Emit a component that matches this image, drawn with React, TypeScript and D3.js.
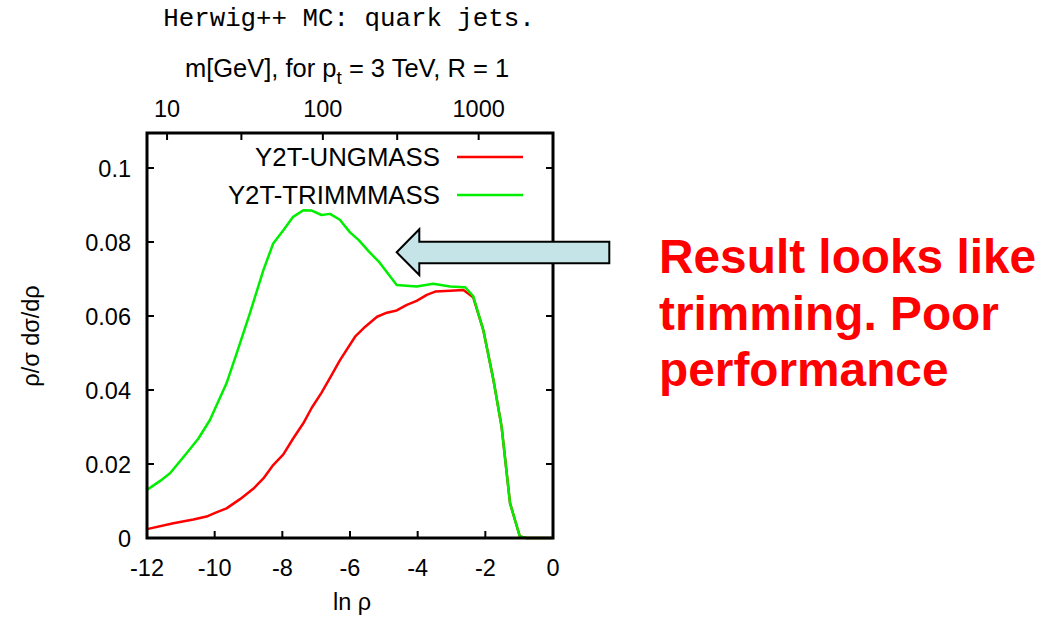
import React from "react";
import * as d3 from "d3";

const greenX = [-12.0, -11.6, -11.32, -10.83, -10.48, -10.14, -9.65, -9.35, -8.96, -8.56, -8.27, -7.97, -7.68, -7.38, -7.13, -6.84, -6.59, -6.3, -6.0, -5.74, -5.44, -5.15, -4.62, -4.03, -3.54, -3.04, -2.6, -2.36, -2.06, -1.76, -1.52, -1.27, -0.98, -0.78, 0];
const greenY = [0.013, 0.0155, 0.0175, 0.0229, 0.0269, 0.0319, 0.0418, 0.0499, 0.0607, 0.0724, 0.0796, 0.0832, 0.0868, 0.0886, 0.0885, 0.0873, 0.0876, 0.086, 0.0826, 0.0805, 0.0774, 0.0747, 0.0684, 0.068, 0.0687, 0.068, 0.0678, 0.0654, 0.0562, 0.0427, 0.0301, 0.0094, 0.0004, 0, 0];

const redX = [-12.0, -11.22, -10.63, -10.24, -9.95, -9.65, -9.25, -8.86, -8.56, -8.27, -7.97, -7.68, -7.38, -7.13, -6.84, -6.54, -6.3, -5.85, -5.55, -5.2, -4.91, -4.62, -4.32, -4.03, -3.73, -3.48, -3.04, -2.65, -2.36, -2.06, -1.76, -1.52, -1.27, -0.98, -0.78, 0];
const redY = [0.0024, 0.004, 0.005, 0.0058, 0.0069, 0.008, 0.0105, 0.0133, 0.0161, 0.0197, 0.0226, 0.0269, 0.031, 0.0352, 0.0393, 0.0441, 0.048, 0.0544, 0.0571, 0.0598, 0.0609, 0.0615, 0.063, 0.0641, 0.0657, 0.0666, 0.0668, 0.067, 0.0651, 0.0562, 0.0427, 0.0301, 0.0094, 0.0004, 0, 0];

const xTicks = [-12, -10, -8, -6, -4, -2, 0];
const yTicks = [0, 0.02, 0.04, 0.06, 0.08, 0.1];
const yTickLabels = ["0", "0.02", "0.04", "0.06", "0.08", "0.1"];
const mTicks = [10, 30, 100, 300, 1000];
const mTickLabels = ["10", "", "100", "", "1000"];

const seriesNames = ["Y2T-UNGMASS", "Y2T-TRIMMMASS"];
const seriesColors = ["#ff0000", "#00ee00"];
const noteLines = ["Result looks like", "trimming. Poor", "performance"];

export default function App() {
  const L = 147, R = 553, T = 133, B = 538;
  const x = d3.scaleLinear().domain([-12, 0]).range([L, R]);
  const y = d3.scaleLinear().domain([0, 0.1]).range([B, 168]);
  const xm = d3.scaleLog().domain([3000 * Math.exp(-6), 3000]).range([L, R]);
  const line = d3.line<[number, number]>().x((d) => x(d[0])).y((d) => y(d[1]));
  const red = redX.map((v, i) => [v, redY[i]] as [number, number]);
  const green = greenX.map((v, i) => [v, greenY[i]] as [number, number]);
  const sans = "'Liberation Sans', Arial, Helvetica, sans-serif";
  const tl = 7;

  return (
    <svg width={1040} height={621} style={{ position: "absolute", left: 0, top: 0, background: "#fff" }} fontFamily={sans}>
      <rect x={0} y={0} width={1040} height={621} fill="#fff" />
      <text x={349} y={26} textAnchor="middle" fontFamily="'Liberation Mono', 'Courier New', monospace" fontSize={25.8}>Herwig++ MC: quark jets.</text>
      <text x={347} y={77} textAnchor="middle" fontSize={25.5}>
        m[GeV], for p<tspan dy={7} fontSize={19}>t</tspan><tspan dy={-7}> = 3 TeV, R = 1</tspan>
      </text>
      {mTicks.map((m, i) => (
        <g key={"m" + i}>
          <line x1={xm(m)} x2={xm(m)} y1={T} y2={T + tl} stroke="#000" strokeWidth={2} />
          {mTickLabels[i] && (
            <text x={xm(m)} y={117} textAnchor="middle" fontSize={23.5}>{mTickLabels[i]}</text>
          )}
        </g>
      ))}
      {xTicks.map((t) => (
        <g key={"x" + t}>
          <line x1={x(t)} x2={x(t)} y1={B} y2={B - tl} stroke="#000" strokeWidth={2} />
          <text x={x(t)} y={576} textAnchor="middle" fontSize={23.5}>{String(t)}</text>
        </g>
      ))}
      {yTicks.map((t, i) => (
        <g key={"y" + t}>
          <line x1={L} x2={L + tl} y1={y(t)} y2={y(t)} stroke="#000" strokeWidth={2} />
          <line x1={R} x2={R - tl} y1={y(t)} y2={y(t)} stroke="#000" strokeWidth={2} />
          <text x={131} y={y(t) + 9} textAnchor="end" fontSize={23.5}>{yTickLabels[i]}</text>
        </g>
      ))}
      <text transform="translate(39,336) rotate(-90)" textAnchor="middle" fontSize={23.5}>ρ/σ dσ/dρ</text>
      <text x={352} y={610} textAnchor="middle" fontSize={23.5}>ln ρ</text>

      <path d={line(red) || ""} fill="none" stroke={seriesColors[0]} strokeWidth={2.5} strokeLinejoin="round" />
      <path d={line(green) || ""} fill="none" stroke={seriesColors[1]} strokeWidth={2.5} strokeLinejoin="round" />

      {seriesNames.map((n, i) => (
        <g key={n}>
          <text x={440} y={166 + i * 38} textAnchor="end" fontSize={25.8}>{n}</text>
          <line x1={457} x2={523} y1={157 + i * 38} y2={157 + i * 38} stroke={seriesColors[i]} strokeWidth={2.5} />
        </g>
      ))}

      <rect x={L} y={T} width={R - L} height={B - T} fill="none" stroke="#000" strokeWidth={3} />

      <path d="M396.7,252.3 L419.3,229.3 L419.3,241.7 L609.3,241.7 L609.3,263.3 L419.3,263.3 L419.3,275 Z" fill="#c5e4e8" stroke="#000" strokeWidth={2} strokeLinejoin="miter" />

      {noteLines.map((s, i) => (
        <text key={s} x={659} y={273 + i * 56.5} fill="#ff0000" fontWeight="bold" fontSize={47.8}>{s}</text>
      ))}
    </svg>
  );
}
